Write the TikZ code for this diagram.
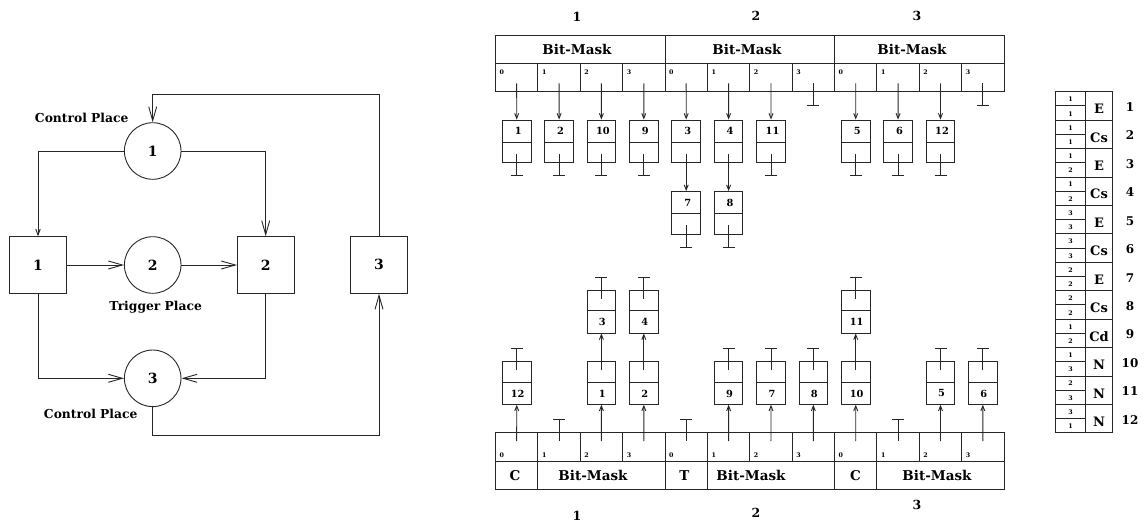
\documentclass[tikz,border=0pt]{standalone}
\usepackage{fontspec}
\setmainfont{DejaVu Serif}
\usetikzlibrary{arrows.meta}
\newcommand\mkdownbox[4]{%
  \node[lbox] (#1) at (#2,#3+21.25) {};
  \draw[ln] ([yshift=-22.7pt]#1.north west) -- ([yshift=-22.7pt]#1.north east);
  \node[bnum] at ([xshift=1.5pt,yshift=-11.6pt]#1.north) {#4};}
\newcommand\mkupbox[4]{%
  \node[lbox] (#1) at (#2,#3-21.25) {};
  \draw[ln] ([yshift=22.6pt]#1.south west) -- ([yshift=22.6pt]#1.south east);
  \node[bnum] at ([xshift=1pt,yshift=11.3pt]#1.south) {#4};}
\begin{document}
\begin{tikzpicture}[x=1pt,y=-1pt,
  ln/.style={line width=0.9pt, draw=black!85},
  place/.style={circle, ln, minimum size=56.6pt, inner sep=0pt, font=\fontsize{14}{14}\selectfont\bfseries},
  trans/.style={rectangle, ln, minimum size=56.6pt, inner sep=0pt, font=\fontsize{14}{14}\selectfont\bfseries},
  lbl/.style={font=\fontsize{12.3}{13}\selectfont\bfseries, inner sep=0pt},
  bigarr/.style={ln, -{Straight Barb[length=14pt,width=8pt]}},
  smallarr/.style={ln, -{Straight Barb[length=5pt,width=4pt]}},
  lbox/.style={rectangle, ln, minimum width=28.6pt, minimum height=42.5pt, inner sep=0pt},
  bnum/.style={font=\fontsize{9.8}{10}\selectfont\bfseries, inner sep=0pt},
  tiny/.style={font=\fontsize{6.3}{6.5}\selectfont\bfseries, inner sep=0pt},
  bm/.style={font=\fontsize{13.5}{14}\selectfont\bfseries, inner sep=0pt},
  grp/.style={font=\fontsize{12.5}{13}\selectfont\bfseries, inner sep=0pt},
  tlet/.style={font=\fontsize{13}{13}\selectfont\bfseries, inner sep=0pt, anchor=base},
  rlbl/.style={font=\fontsize{12}{12}\selectfont\bfseries, inner sep=0pt, anchor=base},
]
\useasboundingbox (0,0) rectangle (1146,525);

% ---------------- Petri net ----------------
\node[place] (P1) at (152.7,151) {1};
\node[place] (P2) at (152.7,265) {2};
\node[place] (P3) at (152.7,378.3) {3};
\node[trans] (T1) at (38,265) {1};
\node[trans] (T2) at (265.7,265) {2};
\node[trans] (T3) at (379,265) {\raisebox{2pt}{3}};
\node[lbl] (L1) at (81.7,118.3) {Control Place};
\node[lbl] (L2) at (155.7,306.7) {Trigger Place};
\node[lbl] (L3) at (90.7,414.3) {Control Place};
\coordinate (c1) at (379,435);
\coordinate (c2) at (379,94.3);
\draw[ln, -{Straight Barb[length=6pt,width=4.5pt]}] (P1.west) -| (T1.north);
\draw[bigarr] (P1.east) -| (T2.north);
\draw[bigarr] (T1.east) -- (P2.west);
\draw[bigarr] (P2.east) -- (T2.west);
\draw[bigarr] (T1.south) |- (P3.west);
\draw[bigarr] (T2.south) |- (P3.east);
\draw[bigarr] (P3.south) |- (c1) -- (T3.south);
\draw[bigarr] (T3.north) -- (c2) -| (P1.north);

% ---------------- top structure ----------------
\draw[ln] (495.5,35) rectangle (1004,91);
\draw[ln] (495.5,63.3) -- (1004,63.3);
\foreach \g in {1,2} \draw[ln] (495.5+169.5*\g,35) -- (495.5+169.5*\g,91);
\foreach \g in {0,1,2} {
  \foreach \c in {1,2,3} \draw[ln] (495.5+169.5*\g+42.375*\c,63.3) -- (495.5+169.5*\g+42.375*\c,91);
  \foreach \c in {0,1,2,3} {
    \node[tiny, anchor=west] at (495.5+169.5*\g+42.375*\c+4,72) {\c};
    \coordinate (tc\g\c) at (495.5+169.5*\g+42.375*\c+21.19,83.3);
    \coordinate (bc\g\c) at (495.5+169.5*\g+42.375*\c+21.19,441);
  }
}
\node[bm] (tbm0) at (577,49) {Bit-Mask};
\node[bm] (tbm1) at (747,49) {Bit-Mask};
\node[bm] (tbm2) at (912,49) {Bit-Mask};
\node[grp] (tg1) at (577,16.7) {1};
\node[grp] (tg2) at (756,16) {2};
\node[grp] (tg3) at (917,16) {3};

% top lists
\mkdownbox{t1}{516.7}{120}{1}
\mkdownbox{t2}{559.1}{120}{2}
\mkdownbox{t10}{601.4}{120}{10}
\mkdownbox{t9}{643.8}{120}{9}
\mkdownbox{t3}{686.2}{120}{3}
\mkdownbox{t4}{728.6}{120}{4}
\mkdownbox{t11}{771.0}{120}{11}
\mkdownbox{t5}{855.7}{120}{5}
\mkdownbox{t6}{898.1}{120}{6}
\mkdownbox{t12}{940.5}{120}{12}
\mkdownbox{t7}{686.2}{191.5}{7}
\mkdownbox{t8}{728.6}{191.5}{8}
\draw[smallarr] (tc00) -- (t1.north);
\draw[smallarr] (tc01) -- (t2.north);
\draw[smallarr] (tc02) -- (t10.north);
\draw[smallarr] (tc03) -- (t9.north);
\draw[smallarr] (tc10) -- (t3.north);
\draw[smallarr] (tc11) -- (t4.north);
\draw[smallarr] (tc12) -- (t11.north);
\draw[smallarr] (tc20) -- (t5.north);
\draw[smallarr] (tc21) -- (t6.north);
\draw[smallarr] (tc22) -- (t12.north);
\draw[smallarr] ([yshift=-34.3pt]t3.north) -- (t7.north);
\draw[smallarr] ([yshift=-34.3pt]t4.north) -- (t8.north);
\foreach \b in {t1,t2,t10,t9,t11,t5,t6,t12,t7,t8}
  \draw[ln] ([yshift=-34.3pt]\b.north) -- ++(0,21.7) ++(-6,0) -- ++(12,0);
\foreach \c in {tc13,tc23}
  \draw[ln] (\c) -- ++(0,22.4) ++(-6,0) -- ++(12,0);

% ---------------- bottom structure ----------------
\draw[ln] (495.5,432.5) rectangle (1004,489.3);
\draw[ln] (495.5,461) -- (1004,461);
\foreach \g in {1,2} \draw[ln] (495.5+169.5*\g,432.5) -- (495.5+169.5*\g,489.3);
\foreach \g in {0,1,2} {
  \draw[ln] (495.5+169.5*\g+42.375,432.5) -- (495.5+169.5*\g+42.375,489.3);
  \foreach \c in {2,3} \draw[ln] (495.5+169.5*\g+42.375*\c,432.5) -- (495.5+169.5*\g+42.375*\c,461);
  \foreach \c in {0,1,2,3}
    \node[tiny, anchor=west] at (495.5+169.5*\g+42.375*\c+4,455) {\c};
}
\node[bm] (bC0) at (515,475.5) {C};
\node[bm] (bT1) at (684.5,475.5) {T};
\node[bm] (bC2) at (855.5,475.5) {C};
\node[bm] (bbm0) at (593,475.5) {Bit-Mask};
\node[bm] (bbm1) at (751,475.5) {Bit-Mask};
\node[bm] (bbm2) at (937,475.5) {Bit-Mask};
\node[grp] (bg1) at (577,516) {1};
\node[grp] (bg2) at (756,512.7) {2};
\node[grp] (bg3) at (917,505) {3};

% bottom lists
\mkupbox{b12}{516.7}{404.3}{12}
\mkupbox{b1}{601.4}{404.3}{1}
\mkupbox{b2}{643.8}{404.3}{2}
\mkupbox{b3}{601.4}{333}{3}
\mkupbox{b4}{643.8}{333}{4}
\mkupbox{b9}{728.6}{404.3}{9}
\mkupbox{b7}{771.0}{404.3}{7}
\mkupbox{b8}{813.3}{404.3}{8}
\mkupbox{b10}{855.7}{404.3}{10}
\mkupbox{b11}{855.7}{333}{11}
\mkupbox{b5}{940.5}{404.3}{5}
\mkupbox{b6}{982.8}{404.3}{6}
\draw[smallarr] (bc00) -- (b12.south);
\draw[smallarr] (bc02) -- (b1.south);
\draw[smallarr] (bc03) -- (b2.south);
\draw[smallarr] (bc11) -- (b9.south);
\draw[smallarr] (bc12) -- (b7.south);
\draw[smallarr] (bc13) -- (b8.south);
\draw[smallarr] (bc20) -- (b10.south);
\draw[smallarr] (bc22) -- (b5.south);
\draw[smallarr] (bc23) -- (b6.south);
\draw[smallarr] ([yshift=34.3pt]b1.south) -- (b3.south);
\draw[smallarr] ([yshift=34.3pt]b2.south) -- (b4.south);
\draw[smallarr] ([yshift=34.3pt]b10.south) -- (b11.south);
\foreach \b in {b12,b3,b4,b9,b7,b8,b11,b5,b6}
  \draw[ln] ([yshift=34.3pt]\b.south) -- ++(0,-22) ++(-6,0) -- ++(12,0);
\foreach \c in {bc01,bc10,bc21}
  \draw[ln] (\c) -- ++(0,-21.7) ++(-6,0) -- ++(12,0);

% ---------------- table ----------------
\foreach \i/\a/\b/\l in {1/1/1/E, 2/1/1/Cs, 3/1/2/E, 4/1/2/Cs, 5/3/3/E, 6/3/3/Cs,
   7/2/2/E, 8/2/2/Cs, 9/1/2/Cd, 10/1/3/N, 11/2/3/N, 12/3/1/N} {
  \pgfmathsetmacro\yt{91.7+28.43*(\i-1)}
  \draw[ln] (1055.7,\yt) rectangle (1112.7,\yt+28.43);
  \draw[ln] (1085,\yt) -- (1085,\yt+28.43);
  \draw[ln] (1055.7,\yt+14.2) -- (1085,\yt+14.2);
  \node[tiny] (ta\i) at (1070.5,\yt+7.6) {\a};
  \node[tiny] (tb\i) at (1070.5,\yt+22) {\b};
  \node[tlet] (tl\i) at (1099,\yt+22) {\l};
  \node[rlbl] (tr\i) at (1130,\yt+19.8) {\i};
}
\end{tikzpicture}
\end{document}
